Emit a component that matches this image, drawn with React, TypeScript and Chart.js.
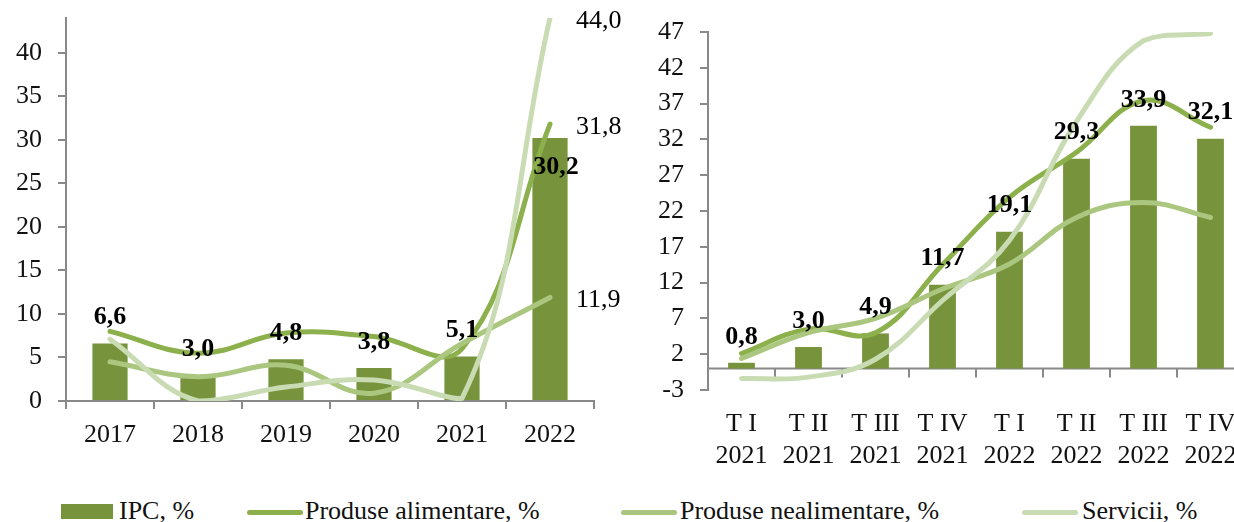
import React, { useEffect, useRef } from "react";
import { Chart, registerables } from "chart.js";

Chart.register(...registerables);

// ---------- DATA ----------
const yearLabels = ["2017", "2018", "2019", "2020", "2021", "2022"];
const ipcAnnual = [6.6, 3.0, 4.8, 3.8, 5.1, 30.2];
const alimAnnual = [8.0, 5.5, 7.8, 7.4, 6.0, 31.8];
const nealimAnnual = [4.5, 2.8, 4.1, 0.9, 6.6, 11.9];
const serviciiAnnual = [7.1, 0.0, 1.6, 2.4, 0.3, 44.0];

const quarterLabels = [
  ["T I", "2021"],
  ["T II", "2021"],
  ["T III", "2021"],
  ["T IV", "2021"],
  ["T I", "2022"],
  ["T II", "2022"],
  ["T III", "2022"],
  ["T IV", "2022"],
];
const ipcQuarter = [0.8, 3.0, 4.9, 11.7, 19.1, 29.3, 33.9, 32.1];
const alimQuarter = [2.1, 5.5, 5.0, 14.5, 23.9, 30.2, 37.4, 33.7];
const nealimQuarter = [1.4, 5.0, 7.0, 11.1, 14.6, 21.1, 23.2, 21.1];
const serviciiQuarter = [-1.4, -1.2, 1.3, 9.5, 17.9, 34.5, 45.8, 46.8];

const legendNames = ["IPC, %", "Produse alimentare, %", "Produse nealimentare, %", "Servicii, %"];

// ---------- STYLE ----------
const BAR = "#77933c";
const ALIM = "#8cb04c";
const NEALIM = "#abc77f";
const SERV = "#c9dbb3";
const AXIS = "#898989";
const FONT = "'Liberation Serif', 'Times New Roman', serif";

const fmt = (v: number) => v.toFixed(1).replace(".", ",");

function lineDs(label: string, data: number[], color: string, order: number) {
  return {
    type: "line" as const,
    label,
    data,
    borderColor: color,
    backgroundColor: color,
    borderWidth: 5,
    borderCapStyle: "round" as const,
    borderJoinStyle: "round" as const,
    pointRadius: 0,
    tension: 0.4,
    fill: false,
    order,
  };
}

const leftLabelsPlugin = {
  id: "leftLabels",
  afterDatasetsDraw(chart: any) {
    const ctx = chart.ctx;
    ctx.save();
    ctx.fillStyle = "#000";
    ctx.textBaseline = "middle";
    const bars = chart.getDatasetMeta(0);
    ctx.font = `bold 26px ${FONT}`;
    ctx.textAlign = "center";
    bars.data.forEach((el: any, i: number) => {
      const v = chart.data.datasets[0].data[i];
      const y = v > 20 ? el.y + 29 : el.y - 26;
      ctx.fillText(fmt(v), el.x + (v > 20 ? 6 : 0), y);
    });
    ctx.font = `26px ${FONT}`;
    ctx.textAlign = "left";
    for (let d = 1; d <= 3; d++) {
      const meta = chart.getDatasetMeta(d);
      const last = meta.data[meta.data.length - 1];
      const arr = chart.data.datasets[d].data;
      ctx.fillText(fmt(arr[arr.length - 1]), last.x + 26, last.y + 3);
    }
    ctx.restore();
  },
};

const rightLabelsPlugin = {
  id: "rightLabels",
  beforeDatasetsDraw(chart: any) {
    const ctx = chart.ctx;
    const ys = chart.scales.y;
    const xs = chart.scales.x;
    const y0 = ys.getPixelForValue(0);
    const { left, right } = chart.chartArea;
    ctx.save();
    ctx.strokeStyle = AXIS;
    ctx.lineWidth = 2;
    ctx.beginPath();
    ctx.moveTo(left, y0);
    ctx.lineTo(right, y0);
    const n = chart.data.labels.length;
    const step = (right - left) / n;
    for (let i = 1; i <= n; i++) {
      const x = Math.round(xs.getPixelForValue(i - 1) + step / 2);
      ctx.moveTo(x, y0);
      ctx.lineTo(x, y0 + 9);
    }
    ctx.stroke();
    ctx.restore();
  },
  afterDatasetsDraw(chart: any) {
    const ctx = chart.ctx;
    ctx.save();
    ctx.fillStyle = "#000";
    ctx.textBaseline = "middle";
    ctx.textAlign = "center";
    ctx.font = `bold 26px ${FONT}`;
    const bars = chart.getDatasetMeta(0);
    bars.data.forEach((el: any, i: number) => {
      const v = chart.data.datasets[0].data[i];
      ctx.fillText(fmt(v), el.x, el.y - 26);
    });
    ctx.restore();
  },
};

function baseOptions(opts: any) {
  return {
    responsive: false,
    animation: false,
    events: [],
    layout: { padding: opts.padding },
    plugins: { legend: { display: false }, tooltip: { enabled: false } },
    scales: {
      x: {
        grid: opts.xGrid,
        border: opts.xBorder,
        ticks: {
          color: "#111",
          font: { family: FONT, size: 26 },
          padding: opts.xPad,
          maxRotation: 0,
          autoSkip: false,
        },
        afterFit: (s: any) => {
          s.height = opts.xHeight;
          s.paddingLeft = 0;
          s.paddingRight = 0;
        },
      },
      y: {
        min: opts.min,
        max: opts.max,
        grid: { display: true, drawOnChartArea: false, drawTicks: true, tickLength: 8, color: AXIS, lineWidth: 2 },
        border: { display: true, color: AXIS, width: 2 },
        ticks: {
          stepSize: 5,
          includeBounds: false,
          color: "#111",
          font: { family: FONT, size: 26 },
          padding: 16,
        },
        afterFit: (s: any) => {
          s.width = opts.yWidth;
          s.paddingTop = 0;
          s.paddingBottom = 0;
        },
      },
    },
  };
}

function LeftChart() {
  const ref = useRef<HTMLCanvasElement>(null);
  useEffect(() => {
    const chart = new Chart(ref.current!, {
      type: "bar",
      data: {
        labels: yearLabels,
        datasets: [
          {
            type: "bar",
            label: legendNames[0],
            data: ipcAnnual,
            backgroundColor: BAR,
            categoryPercentage: 1,
            barPercentage: 0.4,
            order: 10,
          } as any,
          lineDs(legendNames[1], alimAnnual, ALIM, 3),
          lineDs(legendNames[2], nealimAnnual, NEALIM, 2),
          lineDs(legendNames[3], serviciiAnnual, SERV, 1),
        ],
      },
      options: baseOptions({
        padding: { top: 18, right: 46, left: 0, bottom: 0 },
        xGrid: { display: true, drawOnChartArea: false, drawTicks: true, tickLength: 8, color: AXIS, lineWidth: 2, offset: true },
        xBorder: { display: true, color: AXIS, width: 2 },
        xPad: 11,
        xHeight: 69,
        yWidth: 66,
        min: 0,
        max: 44,
      }) as any,
      plugins: [leftLabelsPlugin],
    });
    return () => chart.destroy();
  }, []);
  return (
    <canvas
      ref={ref}
      width={640}
      height={470}
      style={{ position: "absolute", left: 0, top: 0, width: 640, height: 470 }}
    />
  );
}

function RightChart() {
  const ref = useRef<HTMLCanvasElement>(null);
  useEffect(() => {
    const chart = new Chart(ref.current!, {
      type: "bar",
      data: {
        labels: quarterLabels,
        datasets: [
          {
            type: "bar",
            label: legendNames[0],
            data: ipcQuarter,
            backgroundColor: BAR,
            categoryPercentage: 1,
            barPercentage: 0.4,
            order: 10,
          } as any,
          lineDs(legendNames[1], alimQuarter, ALIM, 3),
          lineDs(legendNames[2], nealimQuarter, NEALIM, 2),
          lineDs(legendNames[3], serviciiQuarter, SERV, 1),
        ],
      },
      options: baseOptions({
        padding: { top: 32, right: 26, left: 0, bottom: 0 },
        xGrid: { display: false, drawTicks: false },
        xBorder: { display: false },
        xPad: 19,
        xHeight: 80,
        yWidth: 78,
        min: -3,
        max: 47,
      }) as any,
      plugins: [rightLabelsPlugin],
    });
    return () => chart.destroy();
  }, []);
  return (
    <canvas
      ref={ref}
      width={640}
      height={470}
      style={{ position: "absolute", left: 630, top: 0, width: 640, height: 470 }}
    />
  );
}

function Legend() {
  const items = [
    { color: BAR, kind: "box", sx: 61, tx: 119 },
    { color: ALIM, kind: "line", sx: 247, tx: 305 },
    { color: NEALIM, kind: "line", sx: 621, tx: 680 },
    { color: SERV, kind: "line", sx: 1022, tx: 1082 },
  ];
  return (
    <>
      {items.map((it, i) => (
        <React.Fragment key={i}>
          {it.kind === "box" ? (
            <div style={{ position: "absolute", left: it.sx, top: 504, width: 52, height: 15, background: it.color }} />
          ) : (
            <div
              style={{
                position: "absolute",
                left: it.sx,
                top: 510,
                width: 56,
                height: 5,
                borderRadius: 3,
                background: it.color,
              }}
            />
          )}
          <span
            style={{
              position: "absolute",
              left: it.tx,
              top: 498,
              fontFamily: FONT,
              fontSize: 26,
              lineHeight: "26px",
              color: "#111",
              whiteSpace: "nowrap",
            }}
          >
            {legendNames[i]}
          </span>
        </React.Fragment>
      ))}
    </>
  );
}

export default function App() {
  return (
    <div
      style={{
        position: "absolute",
        left: 0,
        top: 0,
        width: 1234,
        height: 522,
        overflow: "hidden",
        background: "#fff",
      }}
    >
      <LeftChart />
      <RightChart />
      <Legend />
    </div>
  );
}
